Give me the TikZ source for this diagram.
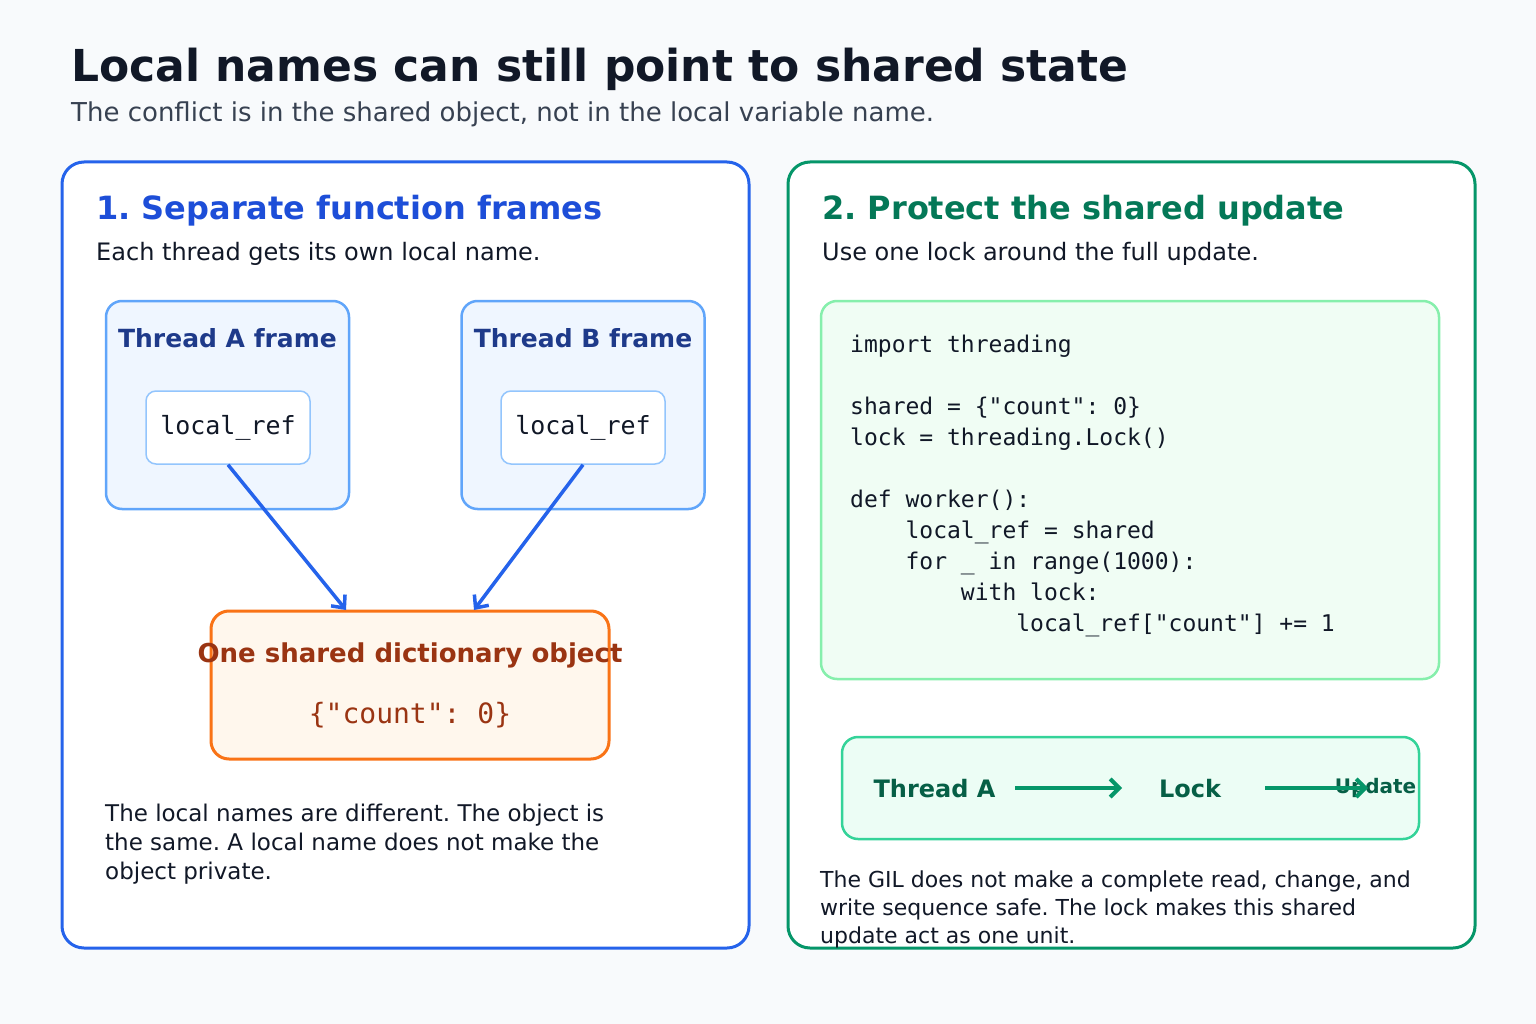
\documentclass[tikz,border=0pt]{standalone}
\usepackage{fontspec}
\setmainfont{DejaVu Sans}
\setmonofont{DejaVu Sans Mono}
\usetikzlibrary{arrows.meta}
\frenchspacing
\definecolor{pagebg}{HTML}{F8FAFC}
\definecolor{ink}{HTML}{111827}
\definecolor{inksoft}{HTML}{374151}
\definecolor{blueline}{HTML}{2563EB}
\definecolor{bluehead}{HTML}{1D4ED8}
\definecolor{framefill}{HTML}{EFF6FF}
\definecolor{frameline}{HTML}{60A5FA}
\definecolor{framehead}{HTML}{1E3A8A}
\definecolor{refline}{HTML}{93C5FD}
\definecolor{objfill}{HTML}{FFF7ED}
\definecolor{objline}{HTML}{F97316}
\definecolor{objtext}{HTML}{9A3412}
\definecolor{greenline}{HTML}{059669}
\definecolor{greenhead}{HTML}{047857}
\definecolor{codefill}{HTML}{F0FDF4}
\definecolor{codeline}{HTML}{86EFAC}
\definecolor{flowfill}{HTML}{ECFDF5}
\definecolor{flowline}{HTML}{34D399}
\definecolor{flowtext}{HTML}{065F46}
\tikzstyle{panel}=[draw,line width=3pt,rounded corners=22pt,fill=white,inner sep=0pt]
\tikzstyle{frame}=[draw=frameline,fill=framefill,line width=2.5pt,rounded corners=16pt,inner sep=0pt]
\tikzstyle{refbox}=[draw=refline,fill=white,line width=1.5pt,rounded corners=10pt,inner sep=0pt,font=\fontsize{25}{28}\selectfont\ttfamily,text=ink]
\tikzstyle{objbox}=[draw=objline,fill=objfill,line width=3pt,rounded corners=18pt,inner sep=0pt]
\tikzstyle{codebox}=[draw=codeline,fill=codefill,line width=2.5pt,rounded corners=16pt,inner sep=0pt]
\tikzstyle{flowbox}=[draw=flowline,fill=flowfill,line width=2.5pt,rounded corners=16pt,inner sep=0pt]
\tikzstyle{lbl}=[inner sep=0pt,text=ink]
\tikzstyle{heading}=[lbl,font=\fontsize{32}{38}\selectfont\bfseries]
\tikzstyle{subhead}=[lbl,font=\fontsize{24}{30}\selectfont]
\tikzstyle{bodytext}=[lbl,align=left,font=\fontsize{23}{29}\selectfont]
\tikzstyle{frametitle}=[lbl,text=framehead,font=\fontsize{25}{30}\selectfont\bfseries]
\tikzstyle{flowlbl}=[lbl,text=flowtext,font=\fontsize{24}{28}\selectfont\bfseries]
\tikzstyle{refarrow}=[draw=blueline,line width=3.5pt,-{Straight Barb[length=10pt,width=18pt]}]
\tikzstyle{flowarrow}=[draw=greenline,line width=4pt,-{Straight Barb[length=9pt,width=18pt]}]

\begin{document}
\begin{tikzpicture}[x=1pt,y=-1pt]
    \useasboundingbox (0,0) rectangle (1536,1024);
    \fill[pagebg] (0,0) rectangle (1536,1024);

    % title
    \node[lbl,anchor=base west,font=\fontsize{44}{50}\selectfont\bfseries] (title) at (71,82) {Local names can still point to shared state};
    \node[lbl,anchor=base west,text=inksoft,font=\fontsize{26}{30}\selectfont] (subtitle) at (71,122) {The conflict is in the shared object, not in the local variable name.};

    % left panel
    \node[panel,draw=blueline,minimum width=687,minimum height=786] (left) at (405.5,555) {};
    \node[heading,text=bluehead,anchor=base west] (h1) at (96,220) {1. Separate function frames};
    \node[subhead,anchor=base west] (s1) at (96,261) {Each thread gets its own local name.};

    \node[frame,minimum width=243,minimum height=208] (fa) at (227.5,405) {};
    \node[frametitle,anchor=base] (fat) at (227.5,347) {Thread A frame};
    \node[refbox,minimum width=164,minimum height=73] (ra) at (228,427.5) {local\_ref};

    \node[frame,minimum width=243,minimum height=208] (fb) at (583,405) {};
    \node[frametitle,anchor=base] (fbt) at (583,347) {Thread B frame};
    \node[refbox,minimum width=164,minimum height=73] (rb) at (583,427.5) {local\_ref};

    \node[objbox,minimum width=398,minimum height=148] (obj) at (410,685) {};
    \node[lbl,text=objtext,anchor=base,font=\fontsize{26}{30}\selectfont\bfseries] (objt) at (410,662) {One shared dictionary object};
    \node[lbl,text=objtext,anchor=base,font=\fontsize{28}{32}\selectfont\ttfamily] (objv) at (410,723) {\{"count": 0\}};

    \coordinate (ina) at (346,610);
    \coordinate (inb) at (474,610);
    \foreach \from/\to in {ra/ina,rb/inb}
    \draw[refarrow] (\from.south) -- (\to);

    \node[bodytext,anchor=north west] (note1) at (105,804) {The local names are different. The object is\\the same. A local name does not make the\\object private.};

    % right panel
    \node[panel,draw=greenline,minimum width=687,minimum height=786] (right) at (1131.5,555) {};
    \node[heading,text=greenhead,anchor=base west] (h2) at (822,220) {2. Protect the shared update};
    \node[subhead,anchor=base west] (s2) at (822,261) {Use one lock around the full update.};

    \node[codebox,minimum width=618,minimum height=378] (code) at (1130,490) {};
    \node[lbl,anchor=north west,align=left,font=\fontsize{23}{31}\selectfont\ttfamily] (codetxt) at (850,335) {import threading\\[31pt]
shared = \{"count": 0\}\\
lock = threading.Lock()\\[31pt]
def worker():\\
\phantom{xxxx}local\_ref = shared\\
\phantom{xxxx}for \_ in range(1000):\\
\phantom{xxxxxxxx}with lock:\\
\phantom{xxxxxxxxxxxx}local\_ref["count"] += 1};

    \node[flowbox,minimum width=577,minimum height=102] (flow) at (1130.5,788) {};
    \node[flowlbl,anchor=base] (thr) at (934.5,797) {Thread A};
    \node[flowlbl,anchor=base] (lk) at (1190,797) {Lock};
    \node[flowlbl,anchor=base,font=\fontsize{20}{24}\selectfont\bfseries] (upd) at (1375.5,793) {Update};
    \coordinate (a1) at (1015,788);
    \coordinate (a2) at (1122,788);
    \coordinate (a3) at (1265,788);
    \coordinate (a4) at (1368,788);
    \foreach \from/\to in {a1/a2,a3/a4}
    \draw[flowarrow] (\from) -- (\to);

    \node[bodytext,anchor=north west,font=\fontsize{22}{28}\selectfont] (note2) at (820,871) {The GIL does not make a complete read, change, and\\write sequence safe. The lock makes this shared\\update act as one unit.};
\end{tikzpicture}
\end{document}
